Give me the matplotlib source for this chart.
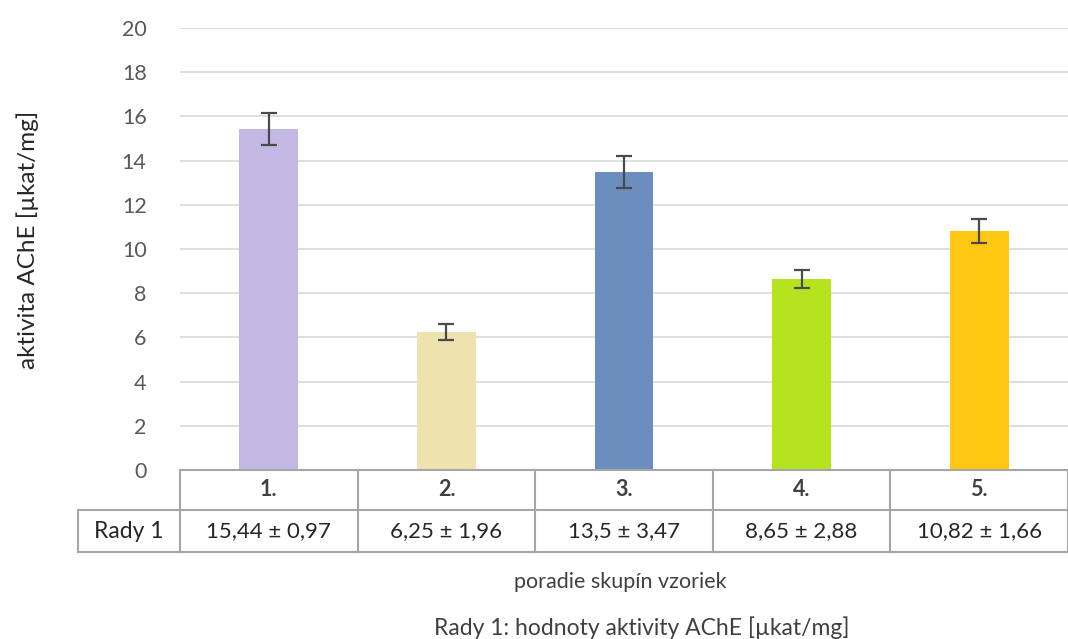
import matplotlib
matplotlib.use("Agg")
import matplotlib.pyplot as plt
from matplotlib.lines import Line2D

plt.rcParams['font.family'] = ['Lato', 'DejaVu Sans']

categories = ["1.", "2.", "3.", "4.", "5."]
values = [15.44, 6.25, 13.5, 8.65, 10.82]
errors_drawn = [0.72, 0.36, 0.72, 0.42, 0.53]
table_labels = ["15,44 ± 0,97", "6,25 ± 1,96", "13,5 ± 3,47", "8,65 ± 2,88", "10,82 ± 1,66"]
series_name = "Rady 1"
colors = ["#C3B7E3", "#EEE2AF", "#6B8EBE", "#B5E31F", "#FFC612"]
yticks = [0, 2, 4, 6, 8, 10, 12, 14, 16, 18, 20]

W, H = 1068, 639
fig = plt.figure(figsize=(W / 100, H / 100), dpi=100)
ax_l, ax_r, ax_b, ax_t = 180, 1068, 470, 28
ax = fig.add_axes([ax_l / W, (H - ax_b) / H, (ax_r - ax_l) / W, (ax_b - ax_t) / H])

x = list(range(len(categories)))
ax.bar(x, values, width=0.33, color=colors, zorder=3)
ax.errorbar(x, values, yerr=errors_drawn, fmt='none', ecolor='#4a4a4a',
            elinewidth=1.6, capsize=6, capthick=1.6, zorder=4)

ax.set_xlim(-0.5, len(categories) - 0.5)
ax.set_ylim(0, 20)
ax.set_yticks(yticks)
ax.set_yticklabels([str(t) for t in yticks], color='#595959', fontsize=15.5)
ax.tick_params(axis='y', length=0, pad=24)
ax.set_xticks([])
ax.grid(axis='y', color='#D9D9D9', linewidth=1.2, zorder=0)
for s in ax.spines.values():
    s.set_visible(False)

# table drawn below the axes
lc = '#A6A6A6'
lw = 1.5
tr = ax.get_xaxis_transform()
unit = (ax_b - ax_t)
y0 = 0.0
y1 = -(510 - ax_b) / unit
y2 = -(552 - ax_b) / unit
xleft = -0.5 - (ax_l - 78) / ((ax_r - ax_l) / len(categories))
xr = len(categories) - 0.5
def hline(y, xa, xb):
    ax.add_line(Line2D([xa, xb], [y, y], transform=tr, color=lc, lw=lw, clip_on=False, zorder=5))
def vline(xv, ya, yb):
    ax.add_line(Line2D([xv, xv], [ya, yb], transform=tr, color=lc, lw=lw, clip_on=False, zorder=5))
hline(y0, -0.5, xr)
hline(y1, xleft, xr)
hline(y2, xleft, xr)
vline(xleft, y1, y2)
for i in range(len(categories) + 1):
    vline(i - 0.5, y0, y2)

for i, (c, t) in enumerate(zip(categories, table_labels)):
    ax.text(i, (y0 + y1) / 2, c, transform=tr, ha='center', va='center',
            fontsize=15.5, fontweight='bold', color='#404040')
    ax.text(i, (y1 + y2) / 2, t, transform=tr, ha='center', va='center',
            fontsize=16, color='#262626')
ax.text((xleft - 0.5) / 2, (y1 + y2) / 2, series_name, transform=tr, ha='center',
        va='center', fontsize=16.5, color='#262626')

fig.text(620 / W, 1 - 582 / H, "poradie skupín vzoriek", ha='center', va='center',
         fontsize=15.5, color='#404040')
fig.text(642 / W, 1 - 628 / H, "Rady 1: hodnoty aktivity AChE [µkat/mg]", ha='center',
         va='center', fontsize=16.5, color='#404040')
fig.text(28 / W, 1 - 240 / H, "aktivita AChE [µkat/mg]", ha='center', va='center',
         rotation=90, fontsize=17.5, color='#262626')

fig.savefig("out.png", dpi=100)
